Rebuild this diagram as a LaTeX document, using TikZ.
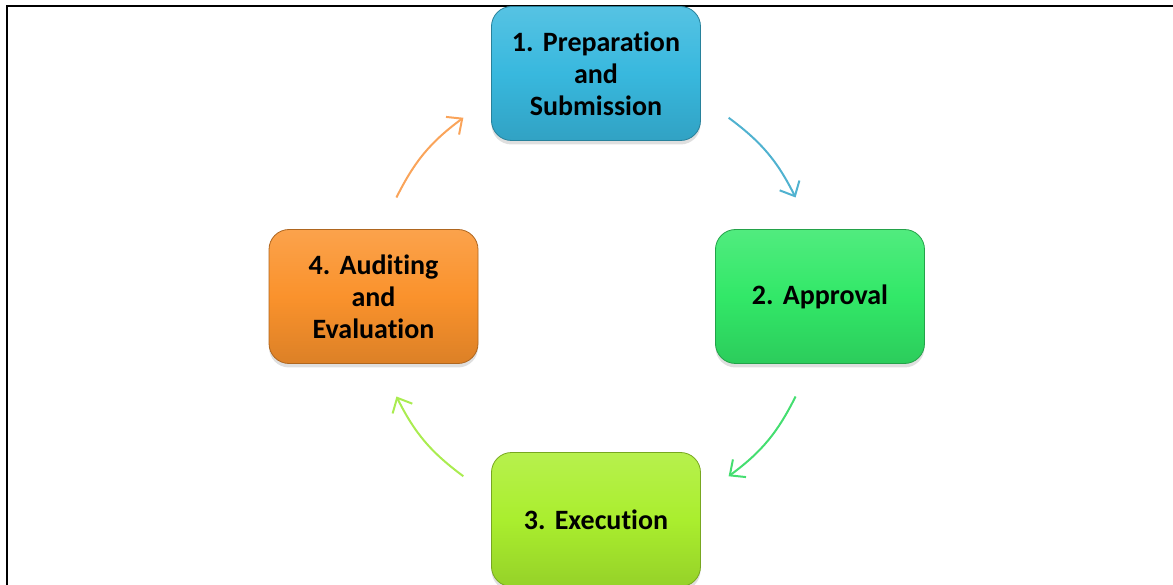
\documentclass[tikz,border=0pt]{standalone}
\usepackage{fontspec}
\setmainfont{Carlito}[Ligatures=NoCommon]
\usetikzlibrary{shadows,arrows.meta}
\frenchspacing
\definecolor{prepblue}{RGB}{56,184,222}
\definecolor{apprgreen}{RGB}{50,232,104}
\definecolor{execlime}{RGB}{170,238,46}
\definecolor{auditorange}{RGB}{250,146,44}
\definecolor{arrblue}{RGB}{80,178,208}
\definecolor{arrgreen}{RGB}{68,222,112}
\definecolor{arrlime}{RGB}{170,236,80}
\definecolor{arrorange}{RGB}{250,164,90}
\tikzset{%
	phase/.style={%
		rectangle, rounded corners=20pt,
		minimum width=209pt, minimum height=134pt,
		text width=200pt, align=center,
		font=\fontsize{28}{32}\selectfont\bfseries,
		draw=#1!70!black, line width=0.8pt,
		top color=#1!85!white, bottom color=#1!88!black, middle color=#1,
		drop shadow={shadow xshift=0pt, shadow yshift=-4pt, opacity=0.25}
	},
	cycle/.style={%
		draw=#1, line width=2pt,
		-{Straight Barb[length=12pt,width=22pt,line width=2pt]}
	}
}
\begin{document}
\begin{tikzpicture}[x=1pt, y=1pt]
	\useasboundingbox (0,0) rectangle (1173,-585);
	% frame
	\draw[line width=2pt] (7,-585) -- (7,-6.3) -- (1173,-6.3);
	% phases
	\coordinate (hub) at (596,-297);
	\node [phase=prepblue] (prep) at (596,-73.5) {1. Preparation\\and\\Submission};
	\node [phase=apprgreen] (appr) at (820,-296.5) {2. Approval};
	\node [phase=execlime] (exec) at (596,-519.5) {3. Execution};
	\node [phase=auditorange] (audit) at (373.5,-296.5) {4. Auditing\\and\\Evaluation};
	% arrows on the circle round the hub
	\foreach \name/\ang in {p1s/53.5, p1e/26.5, p2s/-26.5, p2e/-53.5, p3s/-126.5, p3e/-153.5, p4s/153.5, p4e/126.5}
		\path (hub) ++(\ang:223) coordinate (\name);
	\draw [cycle=arrblue] (p1s) to[bend left=13.5] (p1e);
	\draw [cycle=arrgreen] (p2s) to[bend left=13.5] (p2e);
	\draw [cycle=arrlime] (p3s) to[bend left=13.5] (p3e);
	\draw [cycle=arrorange] (p4s) to[bend left=13.5] (p4e);
\end{tikzpicture}
\end{document}
